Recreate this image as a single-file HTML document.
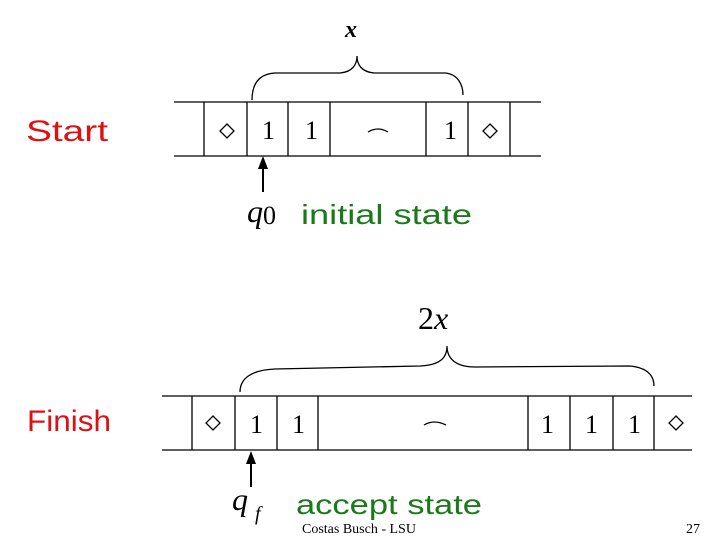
<!DOCTYPE html>
<html><head><meta charset="utf-8"><style>
html,body{margin:0;padding:0;background:#fff;}
svg{display:block;}
</style></head><body>
<svg width="720" height="540" viewBox="0 0 720 540" xmlns="http://www.w3.org/2000/svg">
<g stroke="#000" stroke-width="1.3" fill="none">
<!-- top tape -->
<line x1="174" y1="102" x2="541" y2="102"/>
<line x1="174" y1="156" x2="541" y2="156"/>
<line x1="204" y1="102" x2="204" y2="156"/>
<line x1="247" y1="102" x2="247" y2="156"/>
<line x1="288" y1="102" x2="288" y2="156"/>
<line x1="330" y1="102" x2="330" y2="156"/>
<line x1="426" y1="102" x2="426" y2="156"/>
<line x1="468" y1="102" x2="468" y2="156"/>
<line x1="510" y1="102" x2="510" y2="156"/>
<path d="M252 100 C252 85 258 74 275 73 L340 73 C352 72 357 65 357 56 C357 65 362 72 374 73 L445 73 C458 74 463 85 463 95"/>
<!-- bottom tape -->
<line x1="162" y1="396" x2="692" y2="396"/>
<line x1="162" y1="450" x2="692" y2="450"/>
<line x1="192" y1="396" x2="192" y2="450"/>
<line x1="235" y1="396" x2="235" y2="450"/>
<line x1="277" y1="396" x2="277" y2="450"/>
<line x1="318" y1="396" x2="318" y2="450"/>
<line x1="528" y1="396" x2="528" y2="450"/>
<line x1="570" y1="396" x2="570" y2="450"/>
<line x1="613" y1="396" x2="613" y2="450"/>
<line x1="654" y1="396" x2="654" y2="450"/>
<path d="M240 392 C240 378 252 370 275 369 L420 366 C440 365 447 358 447 346 C447 358 455 367 475 367 L630 366 C650 368 654 378 654 386"/>
<!-- diamonds -->
<path d="M227 124 L234 131 L227 138 L220 131 Z"/>
<path d="M490 124 L497 131 L490 138 L483 131 Z"/>
<path d="M213 416 L220 423 L213 430 L206 423 Z"/>
<path d="M676 416 L683 423 L676 430 L669 423 Z"/>
<!-- tildes -->
<path d="M368 132 Q378 126 388 132"/>
<path d="M424 425 Q434 419 446 425"/>
<!-- arrows -->
<line x1="263" y1="168" x2="263" y2="192" stroke-width="2"/>
<line x1="251" y1="463" x2="251" y2="487" stroke-width="2"/>
</g>
<path d="M263 156 L258 169 L268 169 Z" fill="#000"/>
<path d="M251 451 L246 464 L256 464 Z" fill="#000"/>
<g font-family="Liberation Serif, serif" font-size="26" fill="#000">
<text x="262" y="139">1</text>
<text x="305" y="139">1</text>
<text x="444" y="139">1</text>
<text x="250" y="433">1</text>
<text x="292" y="433">1</text>
<text x="541" y="433">1</text>
<text x="585" y="433">1</text>
<text x="628" y="433">1</text>
<text x="345" y="37" font-style="italic" font-weight="bold" font-size="24">x</text>
<text x="418" y="329" font-size="32">2<tspan font-style="italic">x</tspan></text>
<text x="247" y="222" font-style="italic" font-size="32">q</text>
<text x="263" y="224" font-size="26">0</text>
<text x="232" y="510" font-style="italic" font-size="32">q</text>
<text x="255" y="520" font-style="italic" font-size="20">f</text>
</g>
<g font-family="Liberation Sans, sans-serif">
<text x="26" y="141" font-size="30" fill="#e01010" textLength="82" lengthAdjust="spacingAndGlyphs">Start</text>
<text x="27" y="431" font-size="30" fill="#e01010" textLength="84" lengthAdjust="spacingAndGlyphs">Finish</text>
<text x="301" y="224" font-size="28" fill="#1a7a1a" textLength="171" lengthAdjust="spacingAndGlyphs">initial state</text>
<text x="296" y="514" font-size="28" fill="#1a7a1a" textLength="186" lengthAdjust="spacingAndGlyphs">accept state</text>
</g>
<text x="302" y="533" font-family="Liberation Serif, serif" font-size="14" fill="#000">Costas Busch - LSU</text>
<text x="686" y="533" font-family="Liberation Serif, serif" font-size="14" fill="#000">27</text>
</svg>
</body></html>
